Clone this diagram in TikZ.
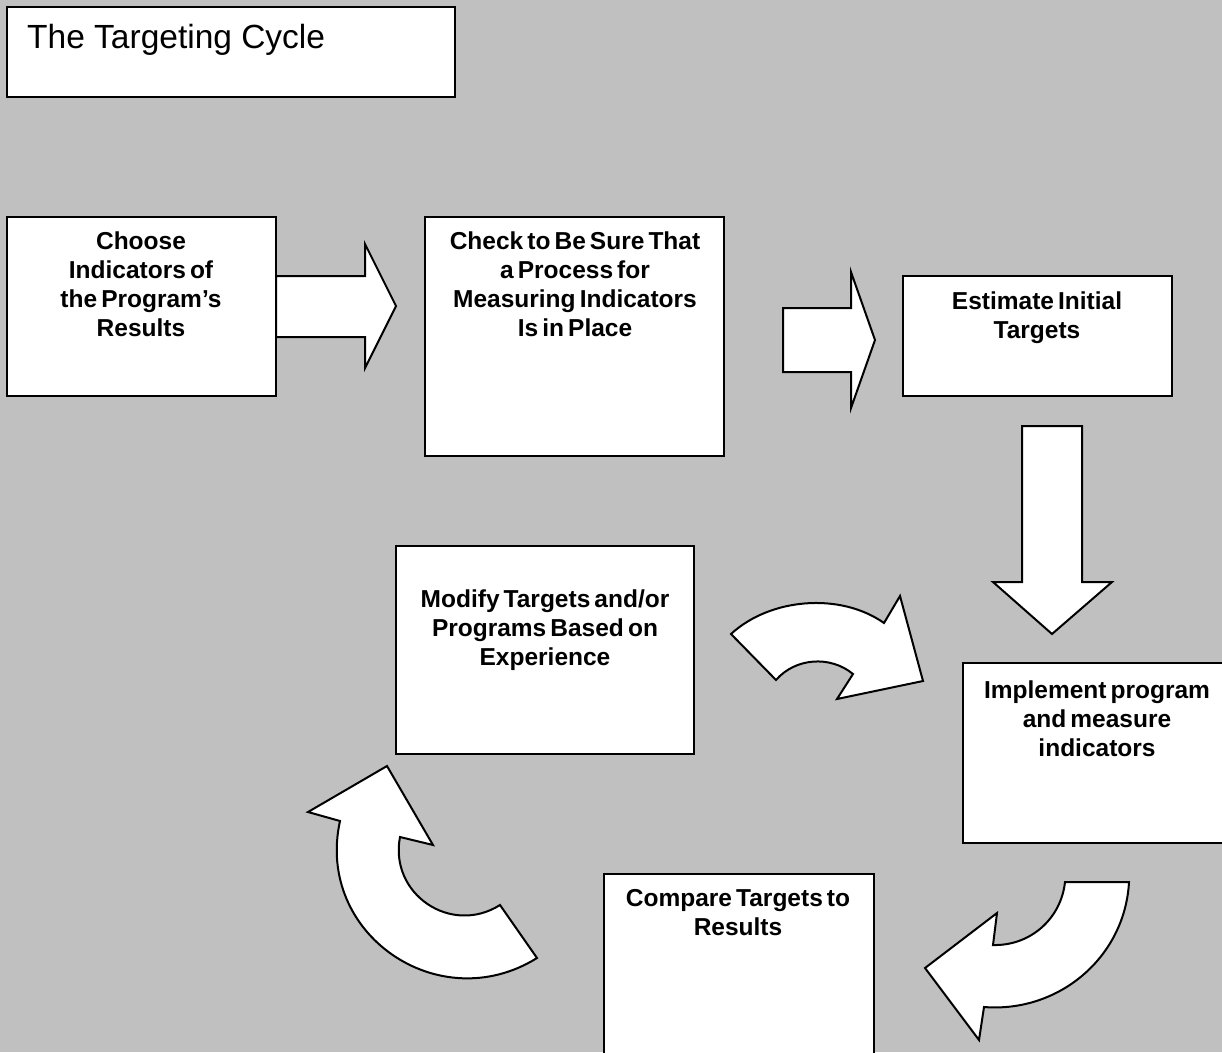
\documentclass[tikz,border=0pt]{standalone}
\usepackage{fontspec}
\setmainfont{Liberation Sans}[WordSpace=0.6]
\newfontfamily\titlefont{Liberation Sans}
\definecolor{bg}{RGB}{192,192,192}
\begin{document}
\begin{tikzpicture}[x=1pt,y=-1pt,
  box/.style={draw=black,line width=2pt,fill=white,inner sep=0pt,outer sep=0pt},
  lbl/.style={inner sep=0pt,align=center,font=\bfseries\fontsize{24.5}{29}\selectfont},
  blockarrow/.style={draw=black,line width=2pt,fill=white,line join=miter}]
\fill[bg] (0,0) rectangle (1222,1052);
\useasboundingbox (0,0) rectangle (1222,1052);
\clip (0,0) rectangle (1222,1052);

% title
\node[box,line width=2.5pt,minimum width=448pt,minimum height=90pt] (b0) at (231,52) {};
\node[inner sep=0pt,anchor=north west,font=\titlefont\fontsize{33.5}{38}\selectfont] (t0) at (27,24) {The Targeting Cycle};

% straight block arrows
\draw[blockarrow] (276,276) -- (365,276) -- (365,244) -- (396,306) -- (365,368) -- (365,337) -- (276,337) -- cycle;
\draw[blockarrow] (783,308) -- (851,308) -- (851,272) -- (875,340) -- (851,408) -- (851,372) -- (783,372) -- cycle;
\draw[blockarrow] (1022,426) -- (1082,426) -- (1082,582) -- (1112,582) -- (1052,634) -- (993,582) -- (1022,582) -- cycle;

% curved block arrows
\draw[blockarrow] (731,634) .. controls (770,598) and (840,592) .. (884,623) -- (900,596) -- (923,681) -- (837,699) -- (853,674) .. controls (830,655) and (795,658) .. (776,680) -- cycle;
\draw[blockarrow] (537,958) -- (500,905) .. controls (451,936) and (389,894) .. (400,837) -- (433,845) -- (387,766) -- (308,812) -- (340,821) .. controls (315,934) and (439,1019) .. (537,958) -- cycle;
\draw[blockarrow] (1129,882) -- (1065,882) .. controls (1061,919) and (1030,946) .. (993,945) -- (997,913) -- (925,968) -- (979,1040) -- (984,1007) .. controls (1059,1013) and (1125,957) .. (1129,882) -- cycle;

% boxes
\node[box,minimum width=269pt,minimum height=179pt] (b1) at (141.5,306.5) {};
\node[box,minimum width=299pt,minimum height=239pt] (b2) at (574.5,336.5) {};
\node[box,minimum width=269pt,minimum height=120pt] (b3) at (1037.5,336) {};
\node[box,minimum width=277pt,minimum height=180pt] (b4) at (1101.5,753) {};
\node[box,minimum width=298pt,minimum height=208pt] (b5) at (545,650) {};
\node[box,minimum width=270pt,minimum height=196pt] (b6) at (739,972) {};

% labels
\node[lbl,anchor=north] (t1) at (141,232) {Choose\\Indicators of\\the Program’s\\Results};
\node[lbl,anchor=north] (t2) at (575,232) {Check to Be Sure That\\a Process for\\Measuring Indicators\\Is in Place};
\node[lbl,anchor=north] (t3) at (1037,292) {Estimate Initial\\Targets};
\node[lbl,anchor=north] (t4) at (1097,681) {Implement program\\and measure\\indicators};
\node[lbl,anchor=north] (t5) at (545,590) {Modify Targets and/or\\Programs Based on\\Experience};
\node[lbl,anchor=north] (t6) at (738,889) {Compare Targets to\\Results};
\end{tikzpicture}
\end{document}
